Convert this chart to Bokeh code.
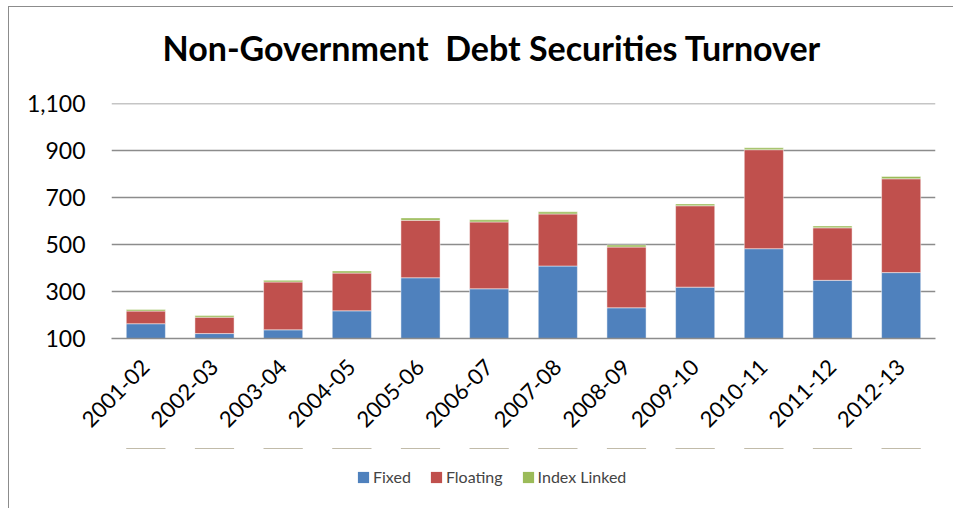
from bokeh.plotting import figure
from bokeh.models import (FixedTicker, NumeralTickFormatter, Legend, LegendItem,
                          ColumnDataSource, Range1d, Title)
from bokeh.layouts import column
from bokeh.embed import file_html
from bokeh.resources import INLINE
import math

years = ["2001-02", "2002-03", "2003-04", "2004-05", "2005-06", "2006-07",
         "2007-08", "2008-09", "2009-10", "2010-11", "2011-12", "2012-13"]
fixed = [163, 121, 137, 218, 359, 312, 409, 231, 319, 483, 348, 381]
floating = [54, 70, 204, 161, 245, 285, 222, 259, 347, 422, 224, 400]
index_linked = [7, 7, 7, 9, 10, 9, 9, 9, 8, 8, 8, 10]
series = ["Fixed", "Floating", "Index Linked"]
colors = ["#4f81bd", "#c0504d", "#9bbb59"]
y_ticks = [100, 300, 500, 700, 900, 1100]

FONT = "Lato"

src = ColumnDataSource(dict(years=years, Fixed=fixed, Floating=floating,
                            **{"Index Linked": index_linked}))

p = figure(x_range=years, width=944, height=441, output_backend="svg",
           toolbar_location=None, min_border_left=102, min_border_right=18,
           min_border_top=96, min_border_bottom=110)
p.y_range = Range1d(100, 1102)

rs = p.vbar_stack(series, x="years", width=0.57, source=src, color=colors,
                  line_color="#ffffff", line_alpha=0.6, line_width=0.8)

p.xgrid.grid_line_color = None
p.ygrid.grid_line_color = "#8c8c8c"
p.ygrid.grid_line_width = 1.5
p.outline_line_color = None

p.yaxis.ticker = FixedTicker(ticks=y_ticks)
p.yaxis.formatter = NumeralTickFormatter(format="0,0")
p.yaxis.axis_line_color = None
p.yaxis.major_tick_line_color = None
p.yaxis.minor_tick_line_color = None
p.yaxis.major_label_text_font = FONT
p.yaxis.major_label_text_font_size = "23px"
p.yaxis.major_label_text_color = "#000000"
p.yaxis.major_label_standoff = 20

p.xaxis.axis_line_color = "#8c8c8c"
p.xaxis.axis_line_width = 1.5
p.xaxis.major_tick_line_color = None
p.xaxis.major_label_orientation = math.pi / 4
p.xaxis.major_label_text_font = FONT
p.xaxis.major_label_text_font_size = "22px"
p.xaxis.major_label_text_color = "#000000"
p.xaxis.major_label_standoff = 19

# spacer between frame and title, then the title itself (farther out)
p.add_layout(Title(text="\u00a0", text_font_size="16px", standoff=0), "above")
p.add_layout(Title(text="Non-Government\u00a0 Debt Securities Turnover", align="left",
                   text_font=FONT, text_font_style="bold", text_font_size="34px",
                   text_color="#000000", offset=51, standoff=33), "above")

# legend panel: same stacked series, drawn far outside its visible range
pl = figure(x_range=years, width=944, height=60, output_backend="svg",
            toolbar_location=None, x_axis_type=None, y_axis_type=None,
            min_border=0, y_range=Range1d(-1000, -999))
pl.outline_line_color = None
pl.xgrid.grid_line_color = None
pl.ygrid.grid_line_color = None
proxies = pl.vbar_stack(series, x="years", width=0.57, source=src,
                        fill_color=colors, line_color=None)
legend = Legend(items=[LegendItem(label=s, renderers=[r]) for s, r in zip(series, proxies)],
                orientation="horizontal", location=(245, 22), margin=0,
                label_text_font=FONT, label_text_font_size="16px",
                glyph_width=14, glyph_height=14, spacing=18, label_standoff=3,
                border_line_color=None, background_fill_alpha=0)
pl.add_layout(legend, "center")

layout = column(p, pl, spacing=0)
layout.margin = (6, 0, 0, 8)
layout.styles = {"border-left": "1.5px solid #8c8c8c", "border-top": "1.5px solid #8c8c8c"}

open("out.html", "w").write(file_html(layout, INLINE))
